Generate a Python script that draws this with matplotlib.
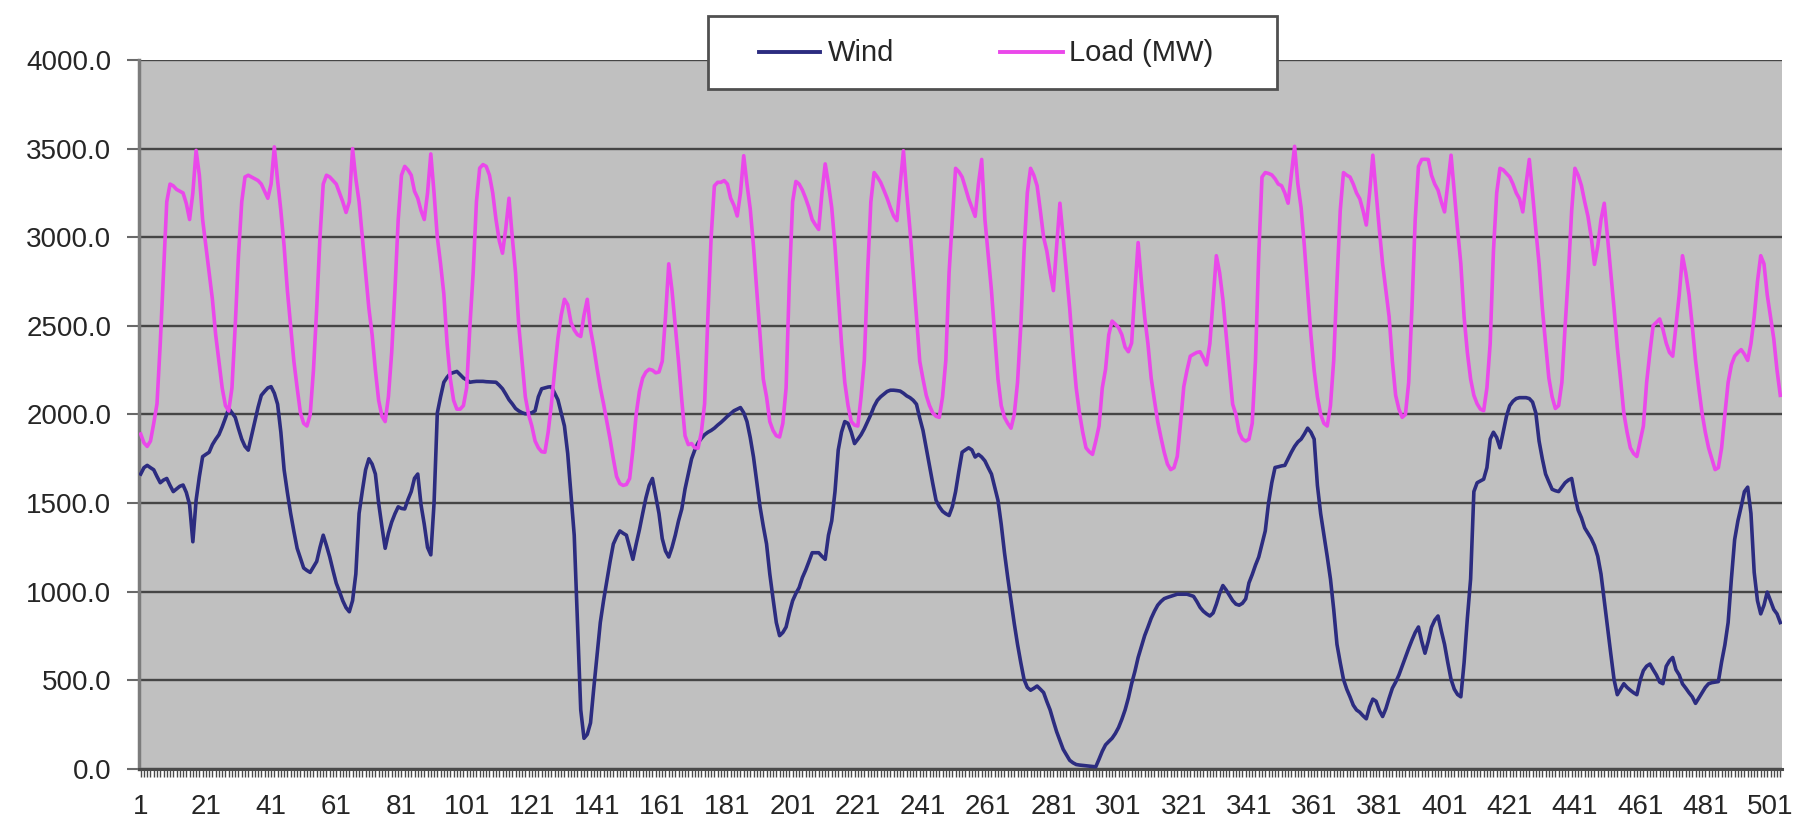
import numpy as np
import matplotlib
matplotlib.use("Agg")
import matplotlib.pyplot as plt
from matplotlib.patches import Rectangle
from matplotlib.lines import Line2D

plt.rcParams['font.family'] = ['Liberation Sans', 'DejaVu Sans']

# ---------------- data (hourly values, 21 days x 24 h) ----------------
wind = [
    1664, 1700, 1713, 1700, 1688, 1650, 1615, 1630, 1639, 1600, 1565, 1580, 1595, 1602, 1560, 1491, 1282, 1516, 1650, 1762, 1775, 1787, 1830, 1860,
    1886, 1930, 1980, 2034, 2010, 1984, 1920, 1861, 1820, 1799, 1880, 1960, 2040, 2108, 2130, 2150, 2157, 2120, 2058, 1900, 1688, 1560, 1442, 1340,
    1245, 1190, 1134, 1120, 1109, 1140, 1171, 1250, 1319, 1260, 1196, 1120, 1048, 1000, 949, 910, 887, 950, 1100, 1442, 1570, 1688, 1750, 1720,
    1664, 1500, 1368, 1245, 1330, 1393, 1440, 1479, 1470, 1467, 1520, 1565, 1640, 1664, 1491, 1380, 1250, 1208, 1500, 2009, 2100, 2182, 2210, 2231,
    2237, 2243, 2225, 2206, 2195, 2182, 2185, 2187, 2187, 2187, 2185, 2184, 2183, 2182, 2165, 2145, 2115, 2083, 2060, 2034, 2020, 2010, 2004, 2006,
    2010, 2021, 2100, 2145, 2150, 2155, 2157, 2120, 2083, 2010, 1935, 1780, 1550, 1319, 826, 333, 173, 195, 260, 456, 640, 826, 950, 1060,
    1170, 1269, 1310, 1343, 1330, 1319, 1250, 1183, 1269, 1350, 1442, 1530, 1600, 1639, 1540, 1442, 1300, 1230, 1196, 1250, 1319, 1400, 1467, 1580,
    1664, 1750, 1800, 1840, 1865, 1886, 1900, 1910, 1923, 1940, 1955, 1972, 1990, 2005, 2021, 2030, 2039, 2010, 1960, 1870, 1760, 1620, 1480, 1370,
    1270, 1100, 960, 826, 752, 770, 801, 880, 949, 990, 1023, 1080, 1122, 1170, 1220, 1220, 1220, 1200, 1183, 1319, 1400, 1565, 1800, 1900,
    1960, 1950, 1900, 1836, 1860, 1886, 1920, 1960, 2000, 2046, 2080, 2100, 2115, 2130, 2137, 2137, 2135, 2132, 2120, 2105, 2095, 2080, 2058, 1980,
    1910, 1810, 1713, 1610, 1516, 1480, 1454, 1440, 1430, 1480, 1565, 1680, 1787, 1800, 1812, 1800, 1760, 1775, 1760, 1738, 1700, 1664, 1590, 1516,
    1380, 1220, 1080, 949, 820, 703, 600, 505, 460, 444, 455, 468, 450, 431, 380, 333, 270, 210, 160, 111, 80, 49, 35, 25,
    22, 20, 18, 16, 14, 12, 55, 100, 136, 155, 173, 200, 234, 280, 333, 400, 481, 550, 629, 690, 752, 800, 850, 890,
    924, 945, 961, 968, 974, 980, 986, 986, 986, 986, 980, 974, 945, 912, 890, 875, 863, 880, 930, 990, 1035, 1010, 980, 950,
    930, 924, 935, 960, 1050, 1097, 1150, 1196, 1270, 1343, 1500, 1615, 1701, 1705, 1710, 1713, 1750, 1787, 1820, 1845, 1861, 1890, 1923, 1900,
    1861, 1600, 1440, 1319, 1200, 1072, 900, 703, 600, 505, 450, 407, 360, 333, 320, 300, 283, 350, 394, 382, 330, 296, 340, 400,
    456, 490, 530, 580, 629, 680, 727, 770, 801, 720, 653, 720, 800, 840, 863, 780, 703, 600, 505, 450, 420, 407, 600, 850,
    1072, 1565, 1615, 1625, 1635, 1700, 1861, 1900, 1870, 1812, 1900, 1990, 2050, 2075, 2090, 2095, 2095, 2095, 2090, 2070, 2009, 1850, 1750, 1664,
    1620, 1578, 1570, 1565, 1590, 1615, 1630, 1639, 1540, 1460, 1417, 1360, 1330, 1300, 1260, 1200, 1100, 949, 800, 650, 505, 419, 450, 481,
    460, 444, 430, 419, 500, 555, 580, 592, 560, 530, 490, 481, 579, 610, 629, 560, 530, 480, 456, 430, 407, 370, 400, 431,
    460, 481, 487, 490, 493, 604, 700, 826, 1072, 1294, 1400, 1480, 1565, 1590, 1442, 1109, 950, 875, 924, 998, 949, 900, 875, 826,
]

load = [
    1890, 1840, 1820, 1850, 1950, 2060, 2400, 2800, 3200, 3300, 3290, 3270, 3260, 3250, 3190, 3100, 3250, 3490, 3350, 3100, 2950, 2800, 2650, 2450,
    2300, 2150, 2050, 2020, 2150, 2500, 2900, 3200, 3340, 3350, 3340, 3330, 3320, 3300, 3260, 3220, 3300, 3510, 3320, 3150, 2950, 2700, 2500, 2300,
    2150, 2010, 1950, 1935, 2000, 2250, 2600, 3000, 3300, 3350, 3340, 3320, 3300, 3250, 3200, 3140, 3200, 3500, 3330, 3200, 3000, 2800, 2600, 2450,
    2250, 2080, 1990, 1960, 2100, 2350, 2700, 3100, 3350, 3400, 3380, 3350, 3260, 3220, 3150, 3100, 3250, 3470, 3250, 3000, 2850, 2680, 2400, 2200,
    2080, 2030, 2030, 2050, 2150, 2500, 2800, 3200, 3390, 3410, 3400, 3350, 3250, 3100, 2980, 2910, 3050, 3220, 3000, 2800, 2500, 2300, 2100, 2000,
    1935, 1850, 1812, 1790, 1787, 1900, 2058, 2250, 2430, 2560, 2650, 2620, 2520, 2477, 2450, 2440, 2560, 2650, 2480, 2380, 2260, 2150, 2060, 1960,
    1861, 1750, 1650, 1610, 1600, 1605, 1639, 1800, 2000, 2130, 2206, 2240, 2255, 2250, 2235, 2240, 2300, 2550, 2850, 2700, 2500, 2300, 2080, 1880,
    1830, 1836, 1812, 1810, 1900, 2060, 2550, 3000, 3290, 3310, 3310, 3320, 3300, 3220, 3180, 3120, 3250, 3460, 3300, 3160, 2950, 2700, 2450, 2200,
    2100, 1960, 1910, 1880, 1873, 1950, 2150, 2750, 3200, 3315, 3300, 3266, 3220, 3167, 3100, 3070, 3044, 3250, 3414, 3300, 3167, 2950, 2675, 2400,
    2181, 2050, 1960, 1940, 1935, 2100, 2305, 2800, 3200, 3365, 3340, 3310, 3266, 3220, 3167, 3120, 3094, 3300, 3488, 3250, 3044, 2800, 2551, 2300,
    2200, 2108, 2050, 2009, 1990, 1984, 2100, 2305, 2800, 3100, 3389, 3370, 3340, 3280, 3217, 3167, 3118, 3300, 3439, 3100, 2900, 2700, 2450, 2200,
    2050, 1984, 1950, 1923, 2000, 2181, 2500, 2921, 3250, 3389, 3350, 3291, 3150, 3000, 2921, 2800, 2699, 2950, 3192, 3000, 2798, 2600, 2354, 2150,
    2009, 1900, 1812, 1790, 1775, 1850, 1935, 2150, 2255, 2450, 2527, 2510, 2490, 2450, 2380, 2354, 2403, 2700, 2970, 2750, 2551, 2400, 2206, 2080,
    1960, 1870, 1787, 1720, 1689, 1700, 1763, 1950, 2157, 2250, 2329, 2340, 2350, 2354, 2320, 2280, 2400, 2650, 2896, 2800, 2650, 2450, 2250, 2058,
    2000, 1900, 1861, 1850, 1861, 1950, 2305, 2900, 3340, 3365, 3360, 3352, 3330, 3300, 3291, 3250, 3192, 3350, 3513, 3300, 3167, 2950, 2700, 2450,
    2250, 2100, 2000, 1950, 1935, 2050, 2305, 2750, 3150, 3365, 3350, 3340, 3300, 3250, 3217, 3150, 3069, 3250, 3463, 3250, 3044, 2850, 2700, 2551,
    2300, 2108, 2030, 1984, 2000, 2181, 2600, 3100, 3400, 3439, 3440, 3439, 3350, 3300, 3266, 3200, 3143, 3300, 3463, 3250, 3044, 2850, 2551, 2350,
    2200, 2108, 2060, 2030, 2021, 2150, 2400, 2921, 3250, 3389, 3380, 3360, 3340, 3300, 3250, 3217, 3143, 3300, 3439, 3250, 3044, 2850, 2601, 2400,
    2206, 2100, 2034, 2050, 2181, 2500, 2798, 3150, 3389, 3350, 3291, 3200, 3118, 3000, 2847, 2950, 3100, 3192, 3000, 2798, 2600, 2379, 2200, 2009,
    1900, 1812, 1780, 1763, 1850, 1935, 2181, 2350, 2502, 2520, 2539, 2480, 2403, 2350, 2329, 2500, 2675, 2896, 2800, 2675, 2500, 2305, 2150, 2009,
    1900, 1812, 1750, 1689, 1700, 1812, 2000, 2181, 2280, 2329, 2350, 2366, 2340, 2305, 2400, 2551, 2750, 2896, 2850, 2675, 2550, 2428, 2250, 2108,
]

series_names = ["Wind", "Load (MW)"]
x_tick_values = [1, 21, 41, 61, 81, 101, 121, 141, 161, 181, 201, 221, 241,
                 261, 281, 301, 321, 341, 361, 381, 401, 421, 441, 461, 481, 501]
x_tick_labels = ["1", "21", "41", "61", "81", "101", "121", "141", "161", "181",
                 "201", "221", "241", "261", "281", "301", "321", "341", "361",
                 "381", "401", "421", "441", "461", "481", "501"]
y_tick_values = [0, 500, 1000, 1500, 2000, 2500, 3000, 3500, 4000]

# ---------------- styling ----------------
W_PX, H_PX = 1799, 819
wind_color = '#2c2c80'
load_color = '#ea48ea'
text_color = '#262626'

hours = np.arange(1, len(load) + 1)

fig = plt.figure(figsize=(W_PX / 100, H_PX / 100), dpi=100)
fig.patch.set_facecolor('white')
ax = fig.add_axes([0.0773, 0.0611, 0.9132, 0.8656])
ax.set_facecolor('#c0c0c0')

ax.plot(hours, wind, color=wind_color, lw=2.6, zorder=3, solid_joinstyle='round')
ax.plot(hours, load, color=load_color, lw=2.6, zorder=3, solid_joinstyle='round')

ax.set_xlim(0.5, len(load) + 0.5)
ax.set_ylim(0, 4000)

ax.set_yticks(y_tick_values)
ax.set_yticklabels([f"{v:.1f}" for v in y_tick_values])
ax.set_xticks(x_tick_values)
ax.set_xticklabels(x_tick_labels)
ax.set_xticks(hours, minor=True)

ax.yaxis.grid(True, color='#454545', lw=1.7)
ax.xaxis.grid(False)
ax.set_axisbelow(True)

for s in ['top', 'right']:
    ax.spines[s].set_visible(False)
ax.spines['left'].set_color('#7c7c7c')
ax.spines['left'].set_linewidth(2.5)
ax.spines['bottom'].set_color('#4a4a4a')
ax.spines['bottom'].set_linewidth(2.2)

ax.tick_params(axis='y', length=9, width=1.5, color='#6a6a6a', pad=11,
               labelsize=20, labelcolor=text_color)
ax.tick_params(axis='x', which='major', length=6, width=1.0, color='#4a4a4a',
               pad=12, labelsize=20, labelcolor=text_color)
ax.tick_params(axis='x', which='minor', length=6, width=1.0, color='#4a4a4a')


# ---------------- legend (drawn in figure pixels) ----------------
def fx(px):
    return px / W_PX


def fy(py):
    return 1 - py / H_PX


fig.add_artist(Rectangle((fx(708), fy(89)), fx(1277) - fx(708), fy(16) - fy(89),
                         transform=fig.transFigure, facecolor='white',
                         edgecolor='#505050', lw=2.0, zorder=10))
fig.add_artist(Line2D([fx(759), fx(820)], [fy(52), fy(52)], transform=fig.transFigure,
                      color=wind_color, lw=2.8, zorder=11))
fig.text(fx(828), fy(53), series_names[0], ha='left', va='center', fontsize=21,
         color=text_color, zorder=11)
fig.add_artist(Line2D([fx(1000), fx(1063)], [fy(52), fy(52)], transform=fig.transFigure,
                      color=load_color, lw=2.8, zorder=11))
fig.text(fx(1069), fy(53), series_names[1], ha='left', va='center', fontsize=21,
         color=text_color, zorder=11)

fig.savefig('out.png', dpi=100, facecolor='white')
